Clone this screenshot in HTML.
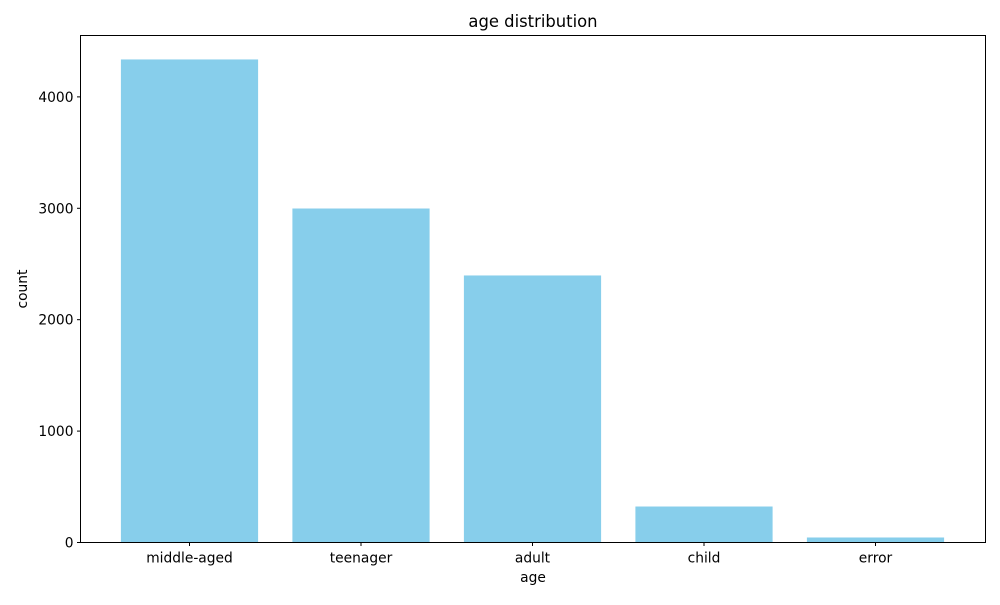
<!DOCTYPE html>
<html><head><meta charset="utf-8"><style>
body{margin:0;background:#fff;font-family:"Liberation Sans","DejaVu Sans",sans-serif;}
text{font-family:"DejaVu Sans","Liberation Sans",sans-serif;}
</style></head><body>
<svg id="chart" width="1000" height="600" xmlns="http://www.w3.org/2000/svg"></svg>
<script>
const categories = ["middle-aged","teenager","adult","child","error"];
const counts = [4336, 2998, 2397, 323, 45];
const yTicks = [0, 1000, 2000, 3000, 4000];
const yTickLabels = ["0", "1000", "2000", "3000", "4000"];

const svg = document.getElementById('chart');
const NS = "http://www.w3.org/2000/svg";
const L = 80.5, R = 985.5, T = 35.5, B = 542.5;
const yMax = 4551;
const y = v => B - v / yMax * (B - T);
const unit = 171.5, x0 = 189.5;
const x = i => x0 + i * unit;
function mk(tag, attrs, txt){const e=document.createElementNS(NS,tag);for(const k in attrs)e.setAttribute(k,attrs[k]);if(txt!==undefined)e.textContent=txt;svg.appendChild(e);return e;}

counts.forEach((v,i)=>{
  const r = mk('rect',{x:x(i)-0.4*unit,y:y(v),width:0.8*unit,height:B-y(v),fill:'#87ceeb'});
  
  
});
const frame = mk('rect',{x:L,y:T,width:R-L,height:B-T,fill:'none',stroke:'#000','stroke-width':1});



categories.forEach((c,i)=>{
  mk('line',{x1:x(i),x2:x(i),y1:B,y2:B+3.5,stroke:'#000'});
  const t = mk('text',{x:x(i),y:B+20,'text-anchor':'middle','font-size':13.8},c);
  
  
});
yTicks.forEach((v,i)=>{
  mk('line',{x1:L-3.5,x2:L,y1:y(v),y2:y(v),stroke:'#000'});
  const t = mk('text',{x:L-7,y:y(v)+5,'text-anchor':'end','font-size':13.8},yTickLabels[i]);
  
  
});
const xt = mk('text',{x:(L+R)/2,y:582,'text-anchor':'middle','font-size':13.8},'age');


const yt = mk('text',{x:0,y:0,'text-anchor':'middle','font-size':13.8,transform:`translate(27,${(T+B)/2}) rotate(-90)`},'count');


const tt = mk('text',{x:(L+R)/2,y:27,'text-anchor':'middle','font-size':16.4},'age distribution');


</script>
</body></html>
